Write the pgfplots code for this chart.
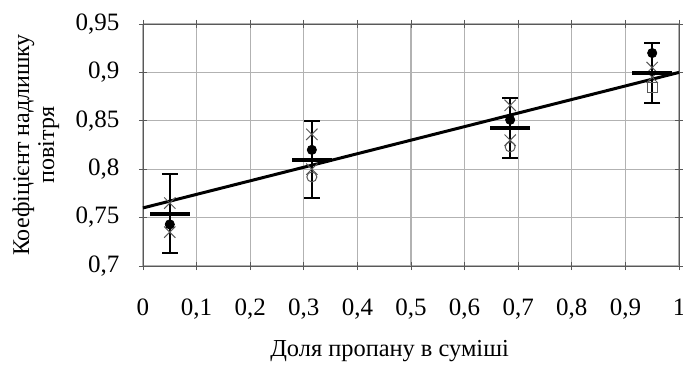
\documentclass[border=0pt]{standalone}
\usepackage{fontspec}
\setmainfont{Liberation Serif}
\usepackage{pgfplots}
\pgfplotsset{compat=1.18}
\begin{document}
\fontsize{12.5bp}{14bp}\selectfont
\begin{tikzpicture}
\begin{axis}[
  name=ax,
  scale only axis,
  width=268bp, height=121bp,
  xmin=0, xmax=1, ymin=0.7, ymax=0.95,
  xtick={0,0.1,0.2,0.3,0.4,0.5,0.6,0.7,0.8,0.9,1},
  ytick={0.7,0.75,0.8,0.85,0.9,0.95},
  /pgf/number format/.cd, use comma, assume math mode=true, precision=2,
  /pgfplots/.cd,
  tick align=center,
  major tick length=4bp,
  tick style={gray!70!black, thin},
  grid=major,
  grid style={gray!60, line width=0.6pt},
  axis line style={gray!70!black, thin},
  ticklabel style={font=\fontsize{12.5bp}{14bp}\selectfont},
  yticklabel style={xshift=-5.5bp},
  xticklabel style={yshift=-10bp},
  xlabel={Доля пропану в суміші},
  ylabel={Коефіцієнт надлишку\\повітря},
  every axis x label/.style={at={(axis description cs:0.46,-0.376)}, anchor=base, font=\fontsize{12.2bp}{14bp}\selectfont},
  every axis y label/.style={at={(axis description cs:-0.2,0.5)}, anchor=center, rotate=90, align=center, font=\fontsize{12bp}{12.5bp}\selectfont},
  clip=false,
]
% individual measurements
\addplot[only marks, mark=x, mark size=4bp, gray!70!black, line width=0.5pt]
  coordinates {(0.05,0.735) (0.05,0.765) (0.315,0.836) (0.315,0.800) (0.685,0.866) (0.685,0.830) (0.95,0.905) (0.95,0.895)};
\addplot[only marks, mark=o, mark size=2.5bp, gray!70!black, line width=0.5pt]
  coordinates {(0.315,0.792) (0.685,0.823)};
\addplot[only marks, mark=square, mark size=2.5bp, gray!70!black, line width=0.5pt]
  coordinates {(0.95,0.884)};
\addplot[only marks, mark=*, mark size=2.3bp, black]
  coordinates {(0.05,0.743) (0.315,0.820) (0.685,0.851) (0.95,0.920)};
% means with spread
\addplot[only marks, mark=-, mark size=10bp, black, line width=2bp,
  error bars/.cd, y dir=both, y explicit,
  error bar style={line width=1bp, black},
  error mark options={mark size=4bp, line width=1bp, rotate=90}]
  coordinates {
    (0.05,0.754) +- (0,0.041)
    (0.315,0.810) +- (0,0.040)
    (0.685,0.843) +- (0,0.031)
    (0.95,0.899) +- (0,0.031)
  };
% linear trend
\addplot[black, line width=1.5bp, no marks] coordinates {(0,0.760) (1,0.900)};
\end{axis}
\pgfresetboundingbox
\path[use as bounding box] ([shift={(-71.5bp,-50.5bp)}]ax.south west) rectangle ([shift={(2bp,12bp)}]ax.north east);
\end{tikzpicture}
\end{document}
